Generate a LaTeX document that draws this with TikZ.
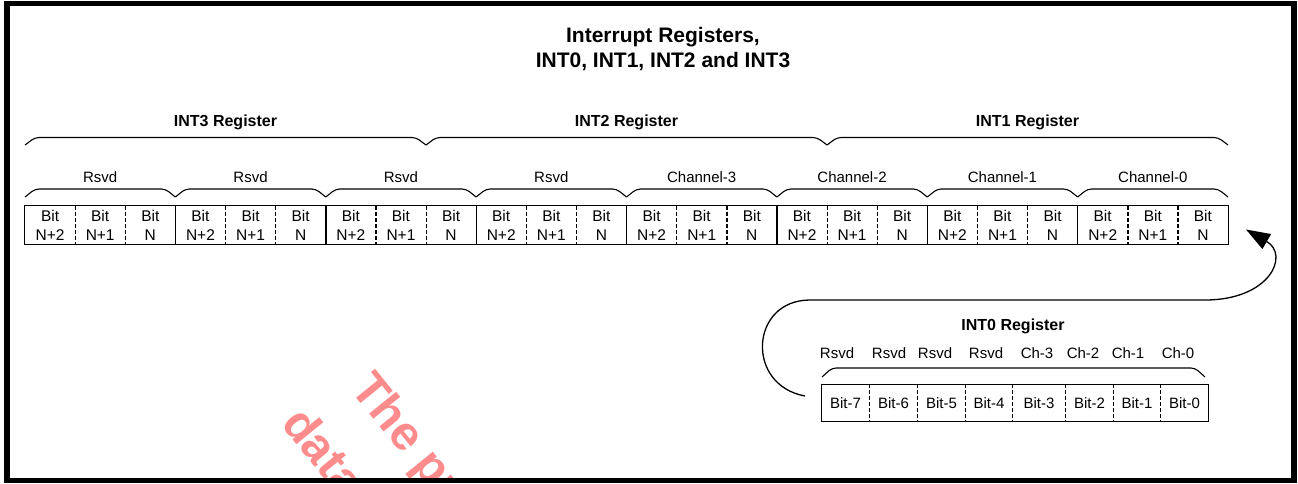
\documentclass[tikz,border=0pt]{standalone}
\usepackage{fontspec}
\setmainfont{Liberation Sans}
\usetikzlibrary{arrows.meta}
\newcommand\regbrace[4]{\draw[bracestyle] (#1,#3) -- (#1+10,#4) -- (#2-10,#4) -- (#2,#3);}
\begin{document}
\begin{tikzpicture}[x=1pt,y=-1pt,
  cell/.style={minimum width=50.125pt,minimum height=38pt,inner sep=0pt,align=center,
    font=\fontsize{15.5}{19}\selectfont},
  cellz/.style={minimum height=37pt,inner sep=0pt,font=\fontsize{15}{16}\selectfont},
  lab/.style={inner sep=0pt,font=\fontsize{15}{16}\selectfont},
  hdr/.style={inner sep=0pt,font=\bfseries\fontsize{16}{18}\selectfont},
  bracestyle/.style={line width=1.1pt,rounded corners=4pt},
  grid/.style={line width=1.2pt},
  dgrid/.style={line width=1.2pt,dash pattern=on 4pt off 2pt},
  frame/.style={line width=5.5pt},
  flow/.style={line width=1.3pt,-{Triangle[length=24pt,width=17pt]}},
  wm/.style={inner sep=0pt,anchor=base west,rotate=-51,text=red!45!white,
    font=\bfseries\fontsize{48}{50}\selectfont}
]
\useasboundingbox (0,0) rectangle (1298,483);
% watermark (partly hidden by the frame)
\begin{scope}
\clip (10,6) rectangle (1291,478);
\node[wm] (wm1) at (349,389) {The pr};
\node[wm] (wm2) at (280,424) {data};
\end{scope}
\draw[frame] (7,3.5) rectangle (1294,480.5);
% title
\node[inner sep=0pt,align=center,font=\bfseries\fontsize{21}{25}\selectfont] (title) at (663,49.5)
  {Interrupt Registers,\\INT0, INT1, INT2 and INT3};
% top row cells
\foreach \i in {0,...,23}{
  \pgfmathtruncatemacro\m{mod(\i,3)}
  \pgfmathsetmacro\xc{25+(\i+0.5)*50.125}
  \ifcase\m
    \node[cell] (c\i) at (\xc,225) {Bit\\N+2};
  \or
    \node[cell] (c\i) at (\xc,225) {Bit\\N+1};
  \else
    \node[cell] (c\i) at (\xc,225) {Bit\\N};
  \fi
}
\foreach \i in {0,...,22}{
  \pgfmathtruncatemacro\m{mod(\i,3)}
  \ifnum\m=2
    \draw[grid] (c\i.north east) -- (c\i.south east);
  \else
    \draw[dgrid] (c\i.north east) -- (c\i.south east);
  \fi
}
\draw[grid] (c0.north west) rectangle (c23.south east);
% group braces and labels
\foreach \g/\t in {0/Rsvd,1/Rsvd,2/Rsvd,3/Rsvd,4/Channel-3,5/Channel-2,6/Channel-1,7/Channel-0}{
  \pgfmathsetmacro\xa{25+\g*150.375}
  \pgfmathsetmacro\xb{25+(\g+1)*150.375}
  \regbrace{\xa}{\xb}{197}{189}
  \node[lab] (g\g) at ({(\xa+\xb)/2},177) {\t};
}
% register braces
\foreach \r/\t in {0/INT3 Register,1/INT2 Register,2/INT1 Register}{
  \pgfmathsetmacro\xa{25+\r*401}
  \pgfmathsetmacro\xb{25+(\r+1)*401}
  \regbrace{\xa}{\xb}{145}{137.5}
  \node[hdr] (r\r) at ({(\xa+\xb)/2},122) {\t};
}
% INT0 register
\node[hdr] (r3) at (1013,326) {INT0 Register};
\foreach \k/\xa/\xb/\t/\u in {7/820/868/Rsvd/837,6/868/916/Rsvd/889,5/916/964/Rsvd/935,4/964/1011/Rsvd/986,
  3/1011/1064/Ch-3/1037,2/1064/1112/Ch-2/1083,1/1112/1159/Ch-1/1128,0/1159/1207/Ch-0/1178}{
  \pgfmathsetmacro\w{\xb-\xa}
  \node[cellz,minimum width=\w pt] (b\k) at ({(\xa+\xb)/2+1.5},403) {Bit-\k};
  \node[lab] (l\k) at (\u,353) {\t};
}
\foreach \k in {7,...,1}{
  \draw[dgrid] (b\k.north east) -- (b\k.south east);
}
\draw[grid] (b7.north west) rectangle (b0.south east);
\regbrace{822}{1205}{377}{368}
% curved arrow
\coordinate (a0) at (805,396);
\coordinate (a1) at (1205,300);
\coordinate (a2) at (1246,229.5);
\draw[flow] (a0) .. controls (745,385) and (750,300) .. (810,300) -- (a1)
  .. controls (1270,300) and (1290,255) .. (a2);
\end{tikzpicture}
\end{document}
